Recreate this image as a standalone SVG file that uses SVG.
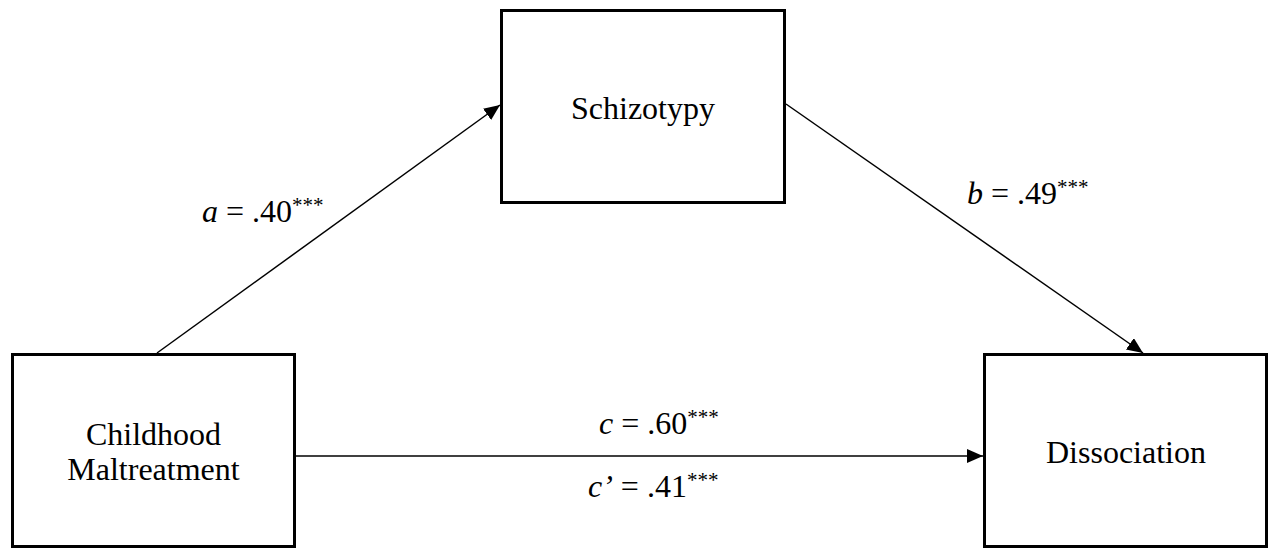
<svg xmlns="http://www.w3.org/2000/svg" width="1269" height="548" viewBox="0 0 1269 548">
<style>
.box{fill:#fff;stroke:#000;stroke-width:3}
.lbl{font-family:"Liberation Serif","Times New Roman",serif;font-size:32px;fill:#000}
.conn{stroke:#000;stroke-width:1.5;fill:none}
.it{font-style:italic}
.sup{font-size:21px}
</style>
<defs>
<marker id="arr" markerUnits="userSpaceOnUse" markerWidth="20" markerHeight="16" refX="16" refY="7" orient="auto">
<path d="M0,0 L16,7 L0,14 Z" fill="#000"/>
</marker>
</defs>
<rect width="1269" height="548" fill="#fff"/>
<g id="connectors">
<line class="conn" x1="157" y1="353" x2="500" y2="105" marker-end="url(#arr)"/>
<line class="conn" x1="786" y1="104" x2="1143" y2="353" marker-end="url(#arr)"/>
<line class="conn" x1="296" y1="456" x2="983" y2="456" marker-end="url(#arr)"/>
<text class="lbl" x="202" y="222"><tspan class="it">a</tspan> = .40<tspan class="sup" dy="-10">***</tspan></text>
<text class="lbl" x="967" y="204"><tspan class="it">b</tspan> = .49<tspan class="sup" dy="-10">***</tspan></text>
<text class="lbl" x="599" y="434"><tspan class="it">c</tspan> = .60<tspan class="sup" dy="-10">***</tspan></text>
<text class="lbl" x="588" y="497"><tspan class="it">c’</tspan> = .41<tspan class="sup" dy="-10">***</tspan></text>
</g>
<g id="node-schizotypy">
<rect class="box" x="501.5" y="10.5" width="283" height="192"/>
<text class="lbl" x="643" y="119" text-anchor="middle">Schizotypy</text>
</g>
<g id="node-childhood">
<rect class="box" x="12.5" y="354.5" width="282" height="192"/>
<text class="lbl" x="153.5" y="445" text-anchor="middle">Childhood</text>
<text class="lbl" x="153.5" y="480" text-anchor="middle">Maltreatment</text>
</g>
<g id="node-dissociation">
<rect class="box" x="984.5" y="354.5" width="282" height="192"/>
<text class="lbl" x="1126" y="463" text-anchor="middle">Dissociation</text>
</g>
</svg>
